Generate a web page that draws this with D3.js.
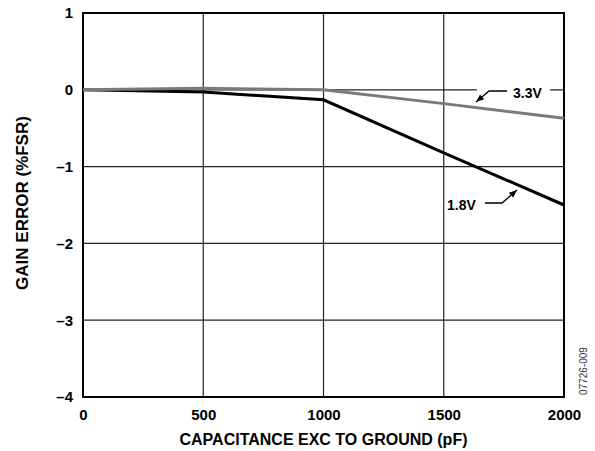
<!DOCTYPE html>
<html>
<head>
<meta charset="utf-8">
<script src="https://cdn.jsdelivr.net/npm/d3@7"></script>
<style>
  body { margin: 0; background: #fff; }
  svg { font-family: "Liberation Sans", Arial, sans-serif; }
</style>
</head>
<body>
<svg width="595" height="451"></svg>
<script>
// chart values
const capValues = [0, 500, 1000, 1500, 2000];        // pF
const gain33 = [0, 0.02, 0, -0.18, -0.37];           // 3.3V, %FSR
const gain18 = [0, -0.03, -0.13, -0.82, -1.5];       // 1.8V, %FSR
const xTicks = [0, 500, 1000, 1500, 2000];
const yTicks = [1, 0, -1, -2, -3, -4];

const svg = d3.select('svg');

// plot box
const padLeft = 83, padRight = 564, padTop = 13, padBottom = 397;

const xScale = d3.scaleLinear().domain([0, 2000]).range([padLeft, padRight]);
const yScale = d3.scaleLinear().domain([-4, 1]).range([padBottom, padTop]);

// grid lines (inner only)
svg.append('g')
    .selectAll('line')
    .data(xTicks.slice(1, -1))
    .enter()
    .append('line')
        .attr('x1', d => xScale(d)).attr('x2', d => xScale(d))
        .attr('y1', padTop).attr('y2', padBottom)
        .attr('stroke', '#222').attr('stroke-width', 1.2);

svg.append('g')
    .selectAll('line')
    .data(yTicks.slice(1, -1))
    .enter()
    .append('line')
        .attr('x1', padLeft).attr('x2', padRight)
        .attr('y1', d => yScale(d)).attr('y2', d => yScale(d))
        .attr('stroke', '#222').attr('stroke-width', 1.2);

// frame
svg.append('rect')
    .attr('x', padLeft).attr('y', padTop)
    .attr('width', padRight - padLeft).attr('height', padBottom - padTop)
    .attr('fill', 'none').attr('stroke', '#000').attr('stroke-width', 2);

// axes, only the labels are shown
const xAxis = d3.axisBottom(xScale).tickValues(xTicks).tickSize(0).tickPadding(12)
    .tickFormat(d3.format('d'));
const yAxis = d3.axisLeft(yScale).tickValues(yTicks).tickSize(0).tickPadding(10)
    .tickFormat(d => d < 0 ? '\u2013' + Math.abs(d) : d);

const gx = svg.append('g')
    .attr('transform', 'translate(0,' + padBottom + ')')
    .call(xAxis);
const gy = svg.append('g')
    .attr('transform', 'translate(' + padLeft + ',0)')
    .call(yAxis);

[gx, gy].forEach(g => {
    g.select('.domain').remove();
    g.selectAll('text')
        .attr('fill', '#000')
        .style('font-size', '15px')
        .style('font-weight', 'bold')
        .style('font-family', '"Liberation Sans", Arial, sans-serif');
});

// data lines
const line = d3.line()
    .x((d, i) => xScale(capValues[i]))
    .y(d => yScale(d));

svg.append('path')
    .datum(gain18)
    .attr('d', line)
    .attr('fill', 'none').attr('stroke', '#000').attr('stroke-width', 3);

svg.append('path')
    .datum(gain33)
    .attr('d', line)
    .attr('fill', 'none').attr('stroke', '#7a7a7a').attr('stroke-width', 3);

// arrow marker for the callouts
svg.append('defs').append('marker')
    .attr('id', 'arr')
    .attr('viewBox', '0 0 10 10')
    .attr('refX', 10).attr('refY', 5)
    .attr('markerWidth', 8).attr('markerHeight', 8)
    .attr('markerUnits', 'userSpaceOnUse')
    .attr('orient', 'auto')
    .append('path')
        .attr('d', 'M0,1 L10,5 L0,9 Z')
        .attr('fill', '#000');

// 3.3V callout (white box breaks the gridline)
svg.append('rect')
    .attr('x', 477).attr('y', 84).attr('width', 73).attr('height', 14)
    .attr('fill', '#fff');
svg.append('polyline')
    .attr('points', '507,91 489,91 476,102')
    .attr('fill', 'none').attr('stroke', '#000').attr('stroke-width', 1.3)
    .attr('marker-end', 'url(#arr)');
svg.append('text')
    .attr('x', 513).attr('y', 98)
    .style('font-size', '14px').style('font-weight', 'bold')
    .text('3.3V');

// 1.8V callout
svg.append('polyline')
    .attr('points', '485,203 502,203 517,190')
    .attr('fill', 'none').attr('stroke', '#000').attr('stroke-width', 1.3)
    .attr('marker-end', 'url(#arr)');
svg.append('text')
    .attr('x', 447).attr('y', 210)
    .style('font-size', '14px').style('font-weight', 'bold')
    .text('1.8V');

// axis titles
svg.append('text')
    .attr('text-anchor', 'middle')
    .attr('x', (padLeft + padRight) / 2)
    .attr('y', 445)
    .style('font-size', '16px').style('font-weight', 'bold')
    .text('CAPACITANCE EXC TO GROUND (pF)');

svg.append('text')
    .attr('text-anchor', 'middle')
    .attr('transform', 'translate(28,203) rotate(-90)')
    .style('font-size', '17px').style('font-weight', 'bold')
    .text('GAIN ERROR (%FSR)');

// figure code
svg.append('text')
    .attr('text-anchor', 'middle')
    .attr('transform', 'translate(587,371) rotate(-90)')
    .style('font-size', '10px')
    .attr('fill', '#333')
    .text('07726-009');
</script>
</body>
</html>
